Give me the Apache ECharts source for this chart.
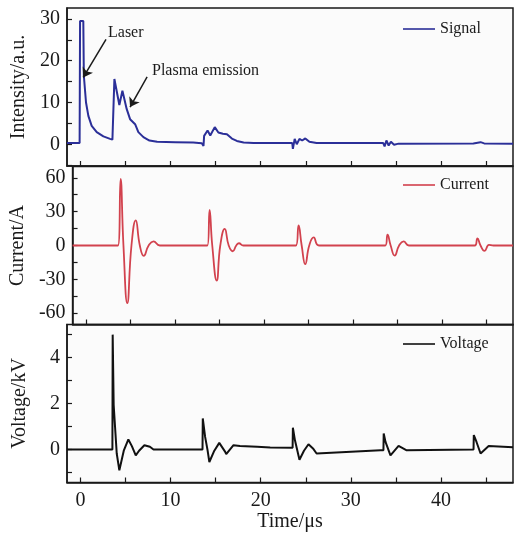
<!DOCTYPE html>
<html>
<head>
<meta charset="utf-8">
<script src="https://cdn.jsdelivr.net/npm/echarts@6/dist/echarts.min.js"></script>
<style>
  html, body { margin: 0; padding: 0; background: #fff; }
  #main { width: 515px; height: 533px; }
</style>
</head>
<body>
<div id="main"></div>
<script>
  // 时间轴刻度 (μs)
  var xTicks = [0, 5, 10, 15, 20, 25, 30, 35, 40, 45];
  var xLabels = [0, 10, 20, 30, 40];

  var signalTicks = [-5, 0, 5, 10, 15, 20, 25, 30];
  var signalLabels = [0, 10, 20, 30];
  var currentTicks = [-60, -45, -30, -15, 0, 15, 30, 45, 60];
  var currentLabels = [-60, -30, 0, 30, 60];
  var voltageTicks = [-1, 0, 1, 2, 3, 4, 5];
  var voltageLabels = [0, 2, 4];

  // Signal (a.u.)
  var signalTime = [-1.5, -0.1, -0.05, 0.31, 0.37, 0.61, 0.87, 1.24, 1.8, 2.54, 3.28, 3.54, 3.76, 4.31, 4.65, 5.13, 5.5, 6.06, 6.42, 6.98, 7.65, 8.5, 10.5, 12.5,
    13.46, 13.65, 13.72, 14.1, 14.4, 14.9, 15.3, 15.8, 16.25, 16.8, 17.35, 18.1, 19.2, 23.5,
    23.57, 23.77, 24.0, 24.3, 24.6, 24.95, 25.4, 26.2, 33.6, 33.65, 33.75, 33.95, 34.2, 34.45, 34.8, 35.3, 43.6, 43.65, 44.4, 44.8, 48];
  var signalValue = [0.3, 0.3, 29.5, 29.5, 16.4, 10, 6.8, 4.4, 2.9, 1.9, 1.3, 1.1, 15.6, 9.4, 12.8, 8.4, 6.0, 4.8, 2.9, 1.7, 0.9, 0.6, 0.5, 0.4,
    0.25, -0.4, 2, 3.3, 2.1, 4.1, 2.8, 2.5, 2.4, 1.35, 0.8, 0.4, 0.3, 0.3,
    -1.1, 1.3, 0.0, 1.3, 0.9, 1.4, 0.6, 0.3, 0.3, 0.6, -0.5, 0.9, -0.3, 0.6, -0.1, 0.15, 0.2, 0.5, 0.5, 0.2, 0.15];

  // Current (A)
  var currentTime = [-1.5, 3.6, 3.9, 4.22, 4.65, 5.12, 5.6, 6.06, 6.5, 7.05, 7.6, 8.3,
    13.65, 13.9, 14.2, 14.7, 15.1, 15.6, 16.05, 16.5, 16.9, 17.2, 17.7,
    23.6, 23.9, 24.25, 24.65, 25.1, 25.6, 26.2,
    33.65, 33.9, 34.25, 34.7, 35.2, 35.7, 36.3,
    43.7, 44.0, 44.35, 44.8, 45.3, 45.8, 48];
  var currentValue = [0, 0, 59, 0, -51, 0, 22.3, 0, -9.2, 0, 3.6, 0,
    0, 31.5, 0, -31, 0, 14.7, 0, -5.1, 0, 2, 0,
    0, 17.7, 0, -16.5, 0, 7.2, 0,
    0, 9.6, 0, -9, 0, 3.6, 0,
    0, 6.3, 0, -4.8, 0.5, 0, 0];

  // Voltage (kV)
  var voltageTime = [-1.5, 3.54, 3.57, 3.68, 3.83, 4.02, 4.31, 4.8, 5.31, 5.7, 6.13, 6.5, 7.09, 7.7, 8.1,
    13.54, 13.57, 13.83, 14.09, 14.3, 14.85, 15.4, 16.06, 16.17, 16.98, 17.7, 19.6, 21.05,
    23.54, 23.57, 23.8, 24.3, 24.8, 25.3, 25.8, 26.2, 33.3, 33.62,
    33.65, 33.85, 34.4, 35.3, 36.2, 43.62, 43.65, 43.95, 44.4, 45.3, 48];
  var voltageValue = [0, 0, 4.99, 1.93, 1.0, -0.17, -0.9, -0.05, 0.44, 0.15, -0.25, -0.05, 0.19, 0.12, 0,
    0, 1.35, 0.55, 0, -0.54, -0.05, 0.29, -0.1, -0.2, 0.19, 0.15, 0.12, 0.09,
    0.08, 0.95, 0.4, -0.44, -0.05, 0.23, 0.05, -0.17, -0.03, -0.03,
    0.7, 0.33, -0.25, 0.16, -0.03, 0.0, 0.63, 0.33, -0.17, 0.15, 0.1];

  // 箭头标注 [起点, 终点]
  var laserArrow = [[2.83, 25.1], [0.3, 16.0]];
  var plasmaArrow = [[7.39, 16.1], [5.5, 8.9]];

  function pairs(t, v) {
    var out = [];
    for (var i = 0; i < t.length; i++) out.push([t[i], v[i]]);
    return out;
  }

  var serif = 'Liberation Serif';
  var ink = '#1a1a1a';

  function makeX(idx, showLabel) {
    return {
      type: 'value',
      gridIndex: idx,
      min: -1.5,
      max: 48,
      name: showLabel ? 'Time/μs' : '',
      nameLocation: 'middle',
      nameGap: 28,
      nameTextStyle: { fontFamily: serif, fontSize: 20, color: ink },
      axisLine: { show: true, onZero: false, lineStyle: { color: ink, width: 1.5 } },
      axisTick: { show: true, inside: true, length: 5, customValues: xTicks, lineStyle: { color: ink, width: 1.2 } },
      axisLabel: { show: showLabel, customValues: xLabels, margin: 8, fontFamily: serif, fontSize: 20, color: ink },
      splitLine: { show: false }
    };
  }

  function makeY(idx, name, min, max, ticks, labels) {
    return {
      type: 'value',
      gridIndex: idx,
      min: min,
      max: max,
      name: name,
      nameLocation: 'middle',
      nameGap: 37,
      nameTextStyle: { fontFamily: serif, fontSize: 20, color: ink },
      axisLine: { show: true, onZero: false, lineStyle: { color: ink, width: 1.5 } },
      axisTick: { show: true, inside: true, length: 5, customValues: ticks, lineStyle: { color: ink, width: 1.2 } },
      axisLabel: { customValues: labels, margin: 7, fontFamily: serif, fontSize: 20, color: ink },
      splitLine: { show: false }
    };
  }

  function makeLegend(name, top) {
    return {
      data: [name], left: 398, top: top,
      icon: 'rect', itemWidth: 32, itemHeight: 1.6, itemGap: 6,
      textStyle: { fontFamily: serif, fontSize: 16, color: ink }
    };
  }

  var gridBase = { left: 67, right: 2, height: 158, show: true, borderColor: ink, borderWidth: 1.5, backgroundColor: '#fbfbfb' };

  var option = {
    animation: false,
    backgroundColor: '#fff',
    grid: [
      Object.assign({}, gridBase, { top: 8 }),
      Object.assign({}, gridBase, { top: 166.5 }),
      Object.assign({}, gridBase, { top: 324.5 })
    ],
    xAxis: [makeX(0, false), makeX(1, false), makeX(2, true)],
    yAxis: [
      makeY(0, 'Intensity/a.u.', -5.2, 32.6, signalTicks, signalLabels),
      makeY(1, 'Current/A', -70, 70, currentTicks, currentLabels),
      makeY(2, 'Voltage/kV', -1.43, 5.43, voltageTicks, voltageLabels)
    ],
    legend: [makeLegend('Signal', 16), makeLegend('Current', 172), makeLegend('Voltage', 331)],
    graphic: [
      { type: 'text', left: 108, top: 25, style: { text: 'Laser', font: '16px "Liberation Serif"', fill: ink } },
      { type: 'text', left: 152, top: 63, style: { text: 'Plasma emission', font: '16px "Liberation Serif"', fill: ink } }
    ],
    series: [
      {
        name: 'Signal',
        type: 'line',
        xAxisIndex: 0,
        yAxisIndex: 0,
        showSymbol: false,
        symbol: 'none',
        lineStyle: { color: '#2b2f98', width: 2 },
        itemStyle: { color: '#2b2f98' },
        data: pairs(signalTime, signalValue),
        markLine: {
          silent: true,
          symbol: ['none', 'arrow'],
          symbolSize: 9,
          label: { show: false },
          lineStyle: { color: ink, width: 1.5, type: 'solid' },
          data: [
            [{ coord: laserArrow[0] }, { coord: laserArrow[1] }],
            [{ coord: plasmaArrow[0] }, { coord: plasmaArrow[1] }]
          ]
        }
      },
      {
        name: 'Current',
        type: 'line',
        xAxisIndex: 1,
        yAxisIndex: 1,
        showSymbol: false,
        symbol: 'none',
        smooth: 0.5,
        lineStyle: { color: '#d2424e', width: 1.8 },
        itemStyle: { color: '#d2424e' },
        data: pairs(currentTime, currentValue)
      },
      {
        name: 'Voltage',
        type: 'line',
        xAxisIndex: 2,
        yAxisIndex: 2,
        showSymbol: false,
        symbol: 'none',
        lineStyle: { color: '#111', width: 2 },
        itemStyle: { color: '#111' },
        data: pairs(voltageTime, voltageValue)
      }
    ]
  };

  var chart = echarts.init(document.getElementById('main'));
  chart.setOption(option);

  window.addEventListener('resize', function () {
    chart.resize();
  });
</script>
</body>
</html>
